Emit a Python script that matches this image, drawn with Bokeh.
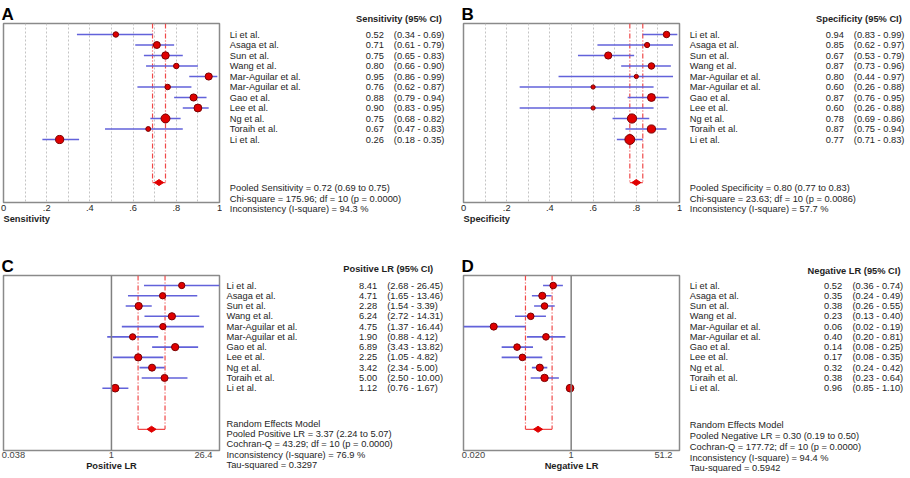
import math

from bokeh.core.properties import value
from bokeh.embed import file_html
from bokeh.layouts import column, row
from bokeh.models import (ColumnDataSource, CustomJSTickFormatter, FixedTicker,
                          Range1d, Span, Title)
from bokeh.plotting import figure
from bokeh.resources import INLINE

# ------------------------------------------------------------------ data
studies = ["Li et al.", "Asaga et al.", "Sun et al.", "Wang et al.",
           "Mar-Aguilar et al.", "Mar-Aguilar et al.", "Gao et al.",
           "Lee et al.", "Ng et al.", "Toraih et al.", "Li et al."]

sens_est = [0.52, 0.71, 0.75, 0.80, 0.95, 0.76, 0.88, 0.90, 0.75, 0.67, 0.26]
sens_lo = [0.34, 0.61, 0.65, 0.66, 0.86, 0.62, 0.79, 0.83, 0.68, 0.47, 0.18]
sens_hi = [0.69, 0.79, 0.83, 0.90, 0.99, 0.87, 0.94, 0.95, 0.82, 0.83, 0.35]
sens_weight = [5.7, 9.1, 10.6, 5.7, 9.8, 5.7, 9.8, 11.7, 14.9, 4.5, 12.6]
sens_pooled = [0.72, 0.69, 0.75]
sens_chi2, sens_df, sens_p, sens_i2 = 175.96, 10, 0.0000, 94.3

spec_est = [0.94, 0.85, 0.67, 0.87, 0.80, 0.60, 0.87, 0.60, 0.78, 0.87, 0.77]
spec_lo = [0.83, 0.62, 0.53, 0.73, 0.44, 0.26, 0.76, 0.26, 0.69, 0.75, 0.71]
spec_hi = [0.99, 0.97, 0.79, 0.96, 0.97, 0.88, 0.95, 0.88, 0.86, 0.94, 0.83]
spec_weight = [7.9, 5.1, 9.8, 7.9, 3.4, 3.4, 11.7, 3.4, 16.1, 12.7, 18.5]
spec_pooled = [0.80, 0.77, 0.83]
spec_chi2, spec_df, spec_p, spec_i2 = 23.63, 10, 0.0086, 57.7

plr_est = [8.41, 4.71, 2.28, 6.24, 4.75, 1.90, 6.89, 2.25, 3.42, 5.00, 1.12]
plr_lo = [2.68, 1.65, 1.54, 2.72, 1.37, 0.88, 3.43, 1.05, 2.34, 2.50, 0.76]
plr_hi = [26.45, 13.46, 3.39, 14.31, 16.44, 4.12, 13.82, 4.82, 5.00, 10.00, 1.67]
plr_weight = [7.5, 7.5, 10.0, 10.0, 7.5, 7.5, 10.0, 10.0, 9.3, 9.3, 11.1]
plr_pooled = [3.37, 2.24, 5.07]
plr_q, plr_df, plr_p, plr_i2, plr_tau2 = 43.29, 10, 0.0000, 76.9, 0.3297
plr_axis = [0.038, 26.4]

nlr_est = [0.52, 0.35, 0.38, 0.23, 0.06, 0.40, 0.14, 0.17, 0.32, 0.38, 0.96]
nlr_lo = [0.36, 0.24, 0.26, 0.13, 0.02, 0.20, 0.08, 0.08, 0.24, 0.23, 0.85]
nlr_hi = [0.74, 0.49, 0.55, 0.40, 0.19, 0.81, 0.25, 0.35, 0.42, 0.64, 1.10]
nlr_weight = [8.3, 9.5, 8.3, 8.3, 9.5, 8.3, 8.3, 8.3, 9.5, 10.3, 11.1]
nlr_pooled = [0.30, 0.19, 0.50]
nlr_q, nlr_df, nlr_p, nlr_i2, nlr_tau2 = 177.72, 10, 0.0000, 94.4, 0.5942
nlr_axis = [0.020, 51.2]

prop_ticks = [0, 0.2, 0.4, 0.6, 0.8, 1.0]

# ------------------------------------------------------------------ style
FONT = "Liberation Sans"
FS = "9.3px"
TXT = "#1e1e1e"
BLUE = "#6262da"
RED = "#e00000"
DARKRED = "#7a0000"
PINK = "#f04848"
FRAME = "#8a8a8a"

PLOT_W = 222
FRAME_W = 216
TOP = dict(h=239, frame_top=23, frame_bottom=202, row0=34, step=10.5, pooled_row=14.1)
BOT = dict(h=239, frame_top=36, frame_bottom=211, row0=46, step=10.27, pooled_row=14.0)


def forest(letter, est, lo, hi, weight, pooled, geom, xlabel, log_axis, axis_ends=None):
    g = geom
    y_top = (g["frame_top"] - g["row0"]) / g["step"]
    y_bot = (g["frame_bottom"] - g["row0"]) / g["step"]
    if log_axis:
        xr = Range1d(axis_ends[0], axis_ends[1])
    else:
        xr = Range1d(prop_ticks[0], prop_ticks[-1])
    p = figure(width=PLOT_W, height=g["h"], x_range=xr, y_range=Range1d(y_bot, y_top),
               x_axis_type="log" if log_axis else "linear", y_axis_location=None,
               toolbar_location=None, output_backend="svg", title=letter,
               min_border_left=3, min_border_right=3,
               min_border_top=g["frame_top"], min_border_bottom=g["h"] - g["frame_bottom"])
    p.title.text_font = FONT
    p.title.text_font_size = "17px"
    p.title.text_font_style = "bold"
    p.title.text_color = "#000000"
    p.title.align = "left"
    p.title.standoff = 0
    p.title.offset = -2
    p.outline_line_color = FRAME
    p.outline_line_width = 1.5
    p.background_fill_color = "white"
    p.ygrid.grid_line_color = None

    ax = p.xaxis[0]
    ax.axis_line_color = None
    ax.major_tick_line_color = None
    ax.minor_tick_line_color = None
    ax.major_tick_in = 0
    ax.major_tick_out = 0
    ax.major_label_standoff = 2
    ax.major_label_text_font = FONT
    ax.major_label_text_font_size = FS
    ax.major_label_text_color = TXT

    if log_axis:
        lo_end, hi_end = axis_ends
        p.xgrid.grid_line_color = None
        span = math.log(hi_end / lo_end)
        # end labels sit just inside the frame, the unit label sits on 1
        left_tick = lo_end * math.exp(span * 10 / FRAME_W)
        right_tick = lo_end * math.exp(span * (1 - 16 / FRAME_W))
        ax.ticker = FixedTicker(ticks=[left_tick, 1.0, right_tick], minor_ticks=[])
        ax.formatter = CustomJSTickFormatter(
            args=dict(labels=[f"{lo_end:.3f}", "1", f"{hi_end:.1f}"]),
            code="return labels[index];")
        ax.major_label_standoff = 1
        ax.major_label_text_color = "#444444"
        ax.axis_label = xlabel
        ax.axis_label_standoff = 0
        ax.axis_label_text_font = FONT
        ax.axis_label_text_font_size = FS
        ax.axis_label_text_font_style = "bold"
        ax.axis_label_text_color = TXT
        p.add_layout(Span(location=1.0, dimension="height", line_color="#808080",
                          line_width=1.5))
    else:
        ax.ticker = FixedTicker(ticks=prop_ticks, minor_ticks=[])
        ax.formatter = CustomJSTickFormatter(
            code="return tick <= 0 ? '0' : (tick >= 1 ? '1' : tick.toFixed(1).slice(1));")
        p.xgrid.ticker = FixedTicker(ticks=[k / 10 for k in range(1, 10)])
        p.xgrid.grid_line_color = "#c4c4c4"
        p.xgrid.grid_line_dash = "2 2"
        p.xgrid.grid_line_width = 1
        p.add_layout(Title(text=xlabel, align="left", text_font=FONT, text_font_size=FS,
                           text_font_style="bold", text_color=TXT, standoff=-3), "below")

    src = ColumnDataSource(dict(
        y=list(range(len(est))), est=est, lo=lo, hi=hi,
        size=[math.sqrt(5.3 * w) for w in weight]))

    # pooled estimate bracket
    pe, plo, phi = pooled
    prow = g["pooled_row"]
    p.segment(x0=[plo, phi], y0=[y_top, y_top], x1=[plo, phi], y1=[prow, prow],
              line_color=PINK, line_width=1.2, line_dash="5 2 1 2")
    p.segment(x0=[plo], y0=[prow], x1=[phi], y1=[prow], line_color=PINK, line_width=1.2)

    p.segment(x0="lo", y0="y", x1="hi", y1="y", source=src, line_color=BLUE, line_width=1.6)
    p.scatter(x="est", y="y", size="size", source=src, fill_color=RED,
              line_color=DARKRED, line_width=1)
    p.scatter(x=[pe], y=[prow], marker="diamond", angle=math.pi / 2, size=9,
              fill_color=RED, line_color=RED)
    return p


def table(x0, width, geom, est, lo, hi, header, footer, cols, header_y, foot_y0, foot_step):
    g = geom
    y_top = -g["row0"] / g["step"]
    y_bot = (g["h"] - g["row0"]) / g["step"]
    t = figure(width=width, height=g["h"], x_range=Range1d(x0, x0 + width),
               y_range=Range1d(y_bot, y_top), x_axis_location=None, y_axis_location=None,
               toolbar_location=None, output_backend="svg", min_border=0,
               frame_align=False)
    t.outline_line_color = None
    t.xgrid.grid_line_color = None
    t.ygrid.grid_line_color = None
    name_x, val_x, ci_x, head_x = cols
    src = ColumnDataSource(dict(
        y=list(range(len(est))), name=studies,
        val=[f"{v:.2f}" for v in est],
        ci=[f"({a:.2f} - {b:.2f})" for a, b in zip(lo, hi)]))
    common = dict(text_font=value(FONT), text_font_size=FS, text_color=TXT,
                  text_baseline="middle")
    t.text(x=name_x, y="y", text="name", source=src, text_align="left", **common)
    t.text(x=val_x, y="y", text="val", source=src, text_align="right", **common)
    t.text(x=ci_x, y="y", text="ci", source=src, text_align="left", **common)
    t.text(x=[head_x], y=[header_y], text=[header], text_align="right",
           text_font_style="bold", **common)
    t.text(x=name_x, y=[foot_y0 + k * foot_step for k in range(len(footer))], text=footer,
           text_align="left", **common)
    return t


sens_footer = [f"Pooled Sensitivity = {sens_pooled[0]:.2f} ({sens_pooled[1]:.2f} to {sens_pooled[2]:.2f})",
               f"Chi-square = {sens_chi2:.2f}; df =  {sens_df} (p = {sens_p:.4f})",
               f"Inconsistency (I-square) = {sens_i2:.1f} %"]
spec_footer = [f"Pooled Specificity = {spec_pooled[0]:.2f} ({spec_pooled[1]:.2f} to {spec_pooled[2]:.2f})",
               f"Chi-square = {spec_chi2:.2f}; df =  {spec_df} (p = {spec_p:.4f})",
               f"Inconsistency (I-square) = {spec_i2:.1f} %"]
plr_footer = ["Random Effects Model",
              f"Pooled Positive LR = {plr_pooled[0]:.2f} ({plr_pooled[1]:.2f} to {plr_pooled[2]:.2f})",
              f"Cochran-Q = {plr_q:.2f}; df =  {plr_df} (p = {plr_p:.4f})",
              f"Inconsistency (I-square) = {plr_i2:.1f} %",
              f"Tau-squared = {plr_tau2:.4f}"]
nlr_footer = ["Random Effects Model",
              f"Pooled Negative LR = {nlr_pooled[0]:.2f} ({nlr_pooled[1]:.2f} to {nlr_pooled[2]:.2f})",
              f"Cochran-Q = {nlr_q:.2f}; df =  {nlr_df} (p = {nlr_p:.4f})",
              f"Inconsistency (I-square) = {nlr_i2:.1f} %",
              f"Tau-squared = {nlr_tau2:.4f}"]

pa = forest("A", sens_est, sens_lo, sens_hi, sens_weight, sens_pooled, TOP, "Sensitivity", False)
ta = table(222, 238, TOP, sens_est, sens_lo, sens_hi, "Sensitivity (95% CI)", sens_footer,
           (229.3, 383.3, 393.3, 441.3), -1.5, 14.64, 1.01)
pb = forest("B", spec_est, spec_lo, spec_hi, spec_weight, spec_pooled, TOP, "Specificity", False)
tb = table(682, 228, TOP, spec_est, spec_lo, spec_hi, "Specificity (95% CI)", spec_footer,
           (689.3, 843.3, 853.3, 901.3), -1.5, 14.64, 1.01)
pc = forest("C", plr_est, plr_lo, plr_hi, plr_weight, plr_pooled, BOT, "Positive LR", True, plr_axis)
tc = table(222, 238, BOT, plr_est, plr_lo, plr_hi, "Positive LR (95% CI)", plr_footer,
           (226.0, 376.7, 386.7, 432.7), -1.56, 13.47, 1.0)
pd = forest("D", nlr_est, nlr_lo, nlr_hi, nlr_weight, nlr_pooled, BOT, "Negative LR", True, nlr_axis)
td = table(682, 228, BOT, nlr_est, nlr_lo, nlr_hi, "Negative LR (95% CI)", nlr_footer,
           (689.3, 841.7, 852.0, 900.0), -1.46, 13.63, 1.04)

layout = column(row(pa, ta, pb, tb), row(pc, tc, pd, td))

with open("out.html", "w") as fh:
    fh.write(file_html(layout, INLINE))
